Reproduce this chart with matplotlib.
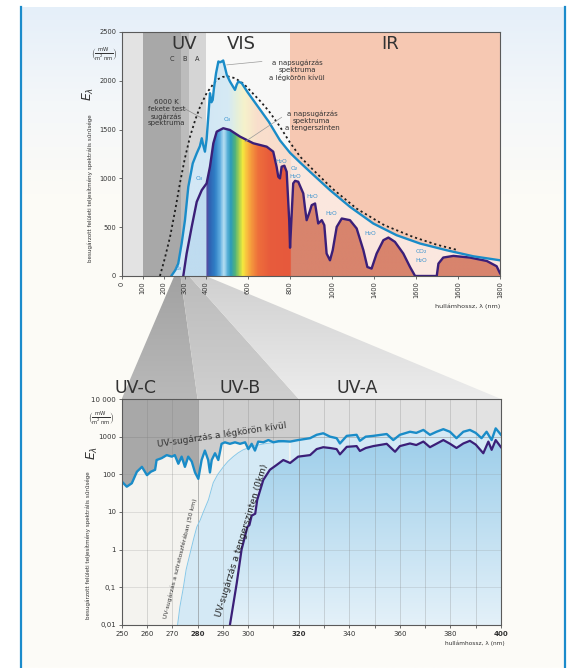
import matplotlib

matplotlib.use("Agg")
import matplotlib.pyplot as plt
import numpy as np
from matplotlib.colors import LinearSegmentedColormap
from matplotlib.patches import Polygon

W, H = 568, 668

# ---- top chart: full spectrum (nm, mW/m2/nm) ----
WL_EXT = [238, 255, 269, 285, 301, 317, 338, 357, 372, 381, 388, 396, 404, 412,
          420, 427, 433, 439, 449, 460, 468, 476, 483, 490, 500, 515, 527, 539,
          547, 555, 571, 600, 650, 700, 753, 801, 850, 896, 991, 1086, 1197,
          1308, 1419, 1546, 1673, 1800]
EXT = [7, 60, 127, 330, 572, 914, 1154, 1257, 1330, 1411, 1340, 1274, 1400, 1633,
       1873, 1780, 1804, 1925, 2079, 2198, 2190, 2198, 2208, 2150, 2061, 1993,
       1950, 1907, 1960, 1993, 1976, 1880, 1730, 1580, 1390, 1262, 1160, 1068,
       880, 709, 538, 418, 333, 264, 202, 161]

WL_SEA = [293, 309, 333, 357, 381, 404, 420, 436, 452, 483, 515, 563, 626, 690,
          721, 737, 745, 753, 761, 774, 785, 797, 801, 808, 816, 825, 840, 864,
          872, 880, 893, 904, 920, 935, 952, 964, 975, 991, 1004, 1023, 1047,
          1086, 1118, 1150, 1169, 1189, 1213, 1245, 1269, 1300, 1340, 1372,
          1396, 1499, 1507, 1530, 1578, 1657, 1737, 1784, 1800]
SEA = [0, 230, 503, 760, 880, 949, 1120, 1360, 1479, 1514, 1496, 1428, 1360,
       1325, 1274, 1120, 1017, 1000, 1120, 1130, 1068, 572, 290, 600, 949, 975,
       966, 846, 700, 572, 650, 726, 743, 538, 572, 521, 230, 161, 264, 503,
       589, 572, 487, 264, 92, 76, 230, 367, 394, 350, 230, 92, 0, 0, 127, 189,
       206, 189, 154, 100, 28]

WL_BB = [182, 205, 230, 255, 277, 300, 325, 350, 373, 404, 430, 452, 480, 507,
         539, 580, 620, 660, 700, 750, 800, 850, 912, 1000, 1118, 1250, 1387,
         1500, 1600]
BB = [0, 180, 400, 680, 949, 1200, 1427, 1600, 1735, 1873, 1950, 2010, 2040,
      2044, 2027, 1970, 1880, 1790, 1690, 1540, 1370, 1220, 1085, 900, 690, 520,
      400, 320, 265]

TOP_XTICKS = [0, 100, 200, 300, 400, 600, 800, 1000, 1200, 1400, 1600, 1800]
TOP_XLABELS = ["0", "100", "200", "300", "400", "600", "800", "1000", "1400",
               "1600", "1600", "1800"]
BAND_EDGES = [0, 100, 280, 320, 400, 800, 1800]
BAND_COLORS = ["#e3e3e3", "#a8a8a8", "#bcbcbc", "#d5d5d5", "#f8f8f7", "#f6c8b2"]

# ---- bottom chart: UV detail (log scale) ----
WL_UV = [250, 252, 254, 256, 258, 260, 261.5, 263.2, 263.8, 265.8, 267.8, 269.8,
         271, 272.4, 273.7, 275, 276.3, 277.7, 279, 280.3, 281.6, 282.9, 284.2,
         284.9, 285.6, 286.9, 288.2, 289.5, 290.8, 292.8, 294.8, 296.8, 298.8,
         300.1, 301.4, 302.7, 304, 306, 308, 310, 312, 314, 316.6, 319.8, 324.5,
         327.1, 329.7, 332.4, 335, 336.3, 339, 342.9, 344.2, 346.5, 349.5, 354.8,
         357.4, 360, 364, 366.5, 369.3, 371.9, 374.5, 377.2, 379.8, 382.4, 385.1,
         387.7, 390, 392.3, 394.3, 396.3, 397.9, 400]
UV_EXT = [65, 47, 58, 117, 158, 95, 117, 132, 240, 269, 324, 295, 324, 191, 295,
          158, 295, 219, 112, 76, 240, 427, 240, 112, 240, 363, 240, 646, 708,
          646, 708, 646, 708, 468, 646, 427, 740, 708, 813, 708, 760, 760, 740,
          813, 912, 1120, 1230, 1000, 912, 660, 1050, 1120, 776, 1000, 1050, 1175,
          813, 1120, 1350, 1260, 1510, 1120, 1350, 1580, 1350, 912, 1350, 1510,
          1260, 912, 1350, 813, 1660, 1120]

WL_UV_SEA = [292.8, 295.5, 297.4, 299.7, 300.5, 301.4, 302.8, 303.6, 306, 308.6,
             311.3, 313.9, 316.6, 319.8, 324.5, 327.1, 329.7, 332.4, 335, 336.3,
             339, 342.9, 344.2, 346.5, 349.5, 354.8, 358.1, 360, 364, 366.5,
             369.3, 371.9, 374.5, 377.2, 379.8, 382.4, 385.1, 387.7, 390, 393,
             395, 396.3, 397.9, 400]
UV_SEA = [0.01, 0.13, 1.0, 4, 4.5, 8, 9, 21, 71, 132, 178, 240, 200, 295, 324,
          468, 525, 500, 468, 339, 537, 562, 417, 500, 562, 646, 398, 562, 660,
          600, 741, 525, 650, 813, 650, 501, 660, 776, 617, 363, 741, 447, 813, 525]

WL_STRAT = [272.1, 273, 274.4, 275.5, 277.4, 278.5, 279.7, 281, 282.3, 284.3,
            286.2, 288, 290.2, 292, 294.1, 296, 298, 300, 302, 305, 307.3, 310,
            313, 316]
STRAT = [0.01, 0.03, 0.1, 0.3, 1, 2, 4, 6, 10, 21, 60, 100, 158, 220, 295, 370,
         447, 500, 562, 620, 660, 690, 720, 740]

UV_XTICKS = list(range(250, 401, 10))
UV_XLABELS = ["250", "260", "270", "280", "290", "300", "", "320", "", "340", "",
              "360", "", "380", "", "400"]
UV_YTICKS = [0.01, 0.1, 1, 10, 100, 1000, 10000]
UV_YLABELS = ["0,01", "0,1", "1", "10", "100", "1000", "10 000"]
UV_BANDS = [250, 280, 320, 400]
UV_BAND_COLORS = ["#a8a8a8", "#cdcdcd", "#e2e2e2"]

C_EXT = "#1a8cc8"
C_SEA = "#3b1f78"
C_MOL = "#3a93cf"
TXT = "#333333"
YLONG = "besugárzott felületi teljesítmény spektrális sűrűsége"
XLAB = "hullámhossz, λ (nm)"
UNIT = r"$\left(\frac{\mathrm{mW}}{\mathrm{m^2\,nm}}\right)$"


def fx(px):
    return px / W


def fy(py):
    return 1 - py / H


def clip_image(ax, img, cmap, extent, verts, z, transform=None):
    im = ax.imshow(img, cmap=cmap, extent=extent, origin="lower",
                   aspect="auto", zorder=z, transform=transform or ax.transData)
    p = Polygon(verts, closed=True, fc="none", ec="none",
                transform=ax.transData)
    ax.add_patch(p)
    im.set_clip_path(p)
    return im


fig = plt.figure(figsize=(W / 100, H / 100), dpi=100)

# background panel
bg = fig.add_axes([0, 0, 1, 1], zorder=-1)
bg_cm = LinearSegmentedColormap.from_list(
    "bg", [(0, "#fdfcf8"), (0.72, "#fcfbf6"), (0.86, "#f4f7fa"), (1, "#e5eff9")])
bg.imshow(np.linspace(0, 1, 256).reshape(-1, 1), cmap=bg_cm,
          extent=[fx(21), fx(565), 0, fy(7)], origin="lower", aspect="auto")
bg.plot([fx(21)] * 2, [0, fy(7)], color="#1b8bcb", lw=1.6)
bg.plot([fx(565)] * 2, [0, fy(7)], color="#1b8bcb", lw=1.6)

# ---------------- top chart ----------------
ax1 = fig.add_axes([fx(121.7), fy(276), fx(500) - fx(121.7), fy(32) - fy(276)])
ax1.set_facecolor("none")
for a, b, c in zip(BAND_EDGES[:-1], BAND_EDGES[1:], BAND_COLORS):
    ax1.axvspan(a, b, color=c, lw=0, zorder=0)

pastel = LinearSegmentedColormap.from_list("pastel", [
    (0, "#d2e7f5"), (400 / 1800, "#d2e7f5"), (505 / 1800, "#d6eaf4"),
    (545 / 1800, "#e6f0da"), (580 / 1800, "#f6f2cb"), (640 / 1800, "#f9dfcc"),
    (799 / 1800, "#f9dccd"), (800 / 1800, "#fbe7de"), (1, "#fbe8e0")])
rainbow = LinearSegmentedColormap.from_list("rainbow", [
    (0, "#bfdcf0"), (399 / 1800, "#bfdcf0"), (400 / 1800, "#5b4a9e"),
    (415 / 1800, "#2f64b4"), (440 / 1800, "#2f7fc6"), (465 / 1800, "#62aee0"),
    (483 / 1800, "#bde3f3"), (498 / 1800, "#5fb3dc"), (515 / 1800, "#2e9cba"),
    (535 / 1800, "#4fb27c"), (555 / 1800, "#a9d250"), (572 / 1800, "#f4ea3e"),
    (590 / 1800, "#f9c13f"), (612 / 1800, "#f59a3d"), (645 / 1800, "#ee6f3b"),
    (700 / 1800, "#e85c3c"), (799 / 1800, "#e6593d"), (800 / 1800, "#d8846d"),
    (1, "#d8846d")])
xs = np.linspace(0, 1, 1800).reshape(1, -1)
ext_verts = [(WL_EXT[0], 0)] + list(zip(WL_EXT, EXT)) + [(WL_EXT[-1], 0)]
sea_verts = [(WL_SEA[0], 0)] + list(zip(WL_SEA, SEA)) + [(WL_SEA[-1], 0)]
clip_image(ax1, xs, pastel, [0, 1800, 0, 2500], ext_verts, 1)
clip_image(ax1, xs, rainbow, [0, 1800, 0, 2500], sea_verts, 2)

ax1.plot(WL_BB, BB, color="#1e1e1e", lw=1.3, ls=(0, (1.2, 1.6)), zorder=3)
ax1.plot(WL_SEA, SEA, color=C_SEA, lw=1.7, zorder=4)
ax1.plot(WL_EXT, EXT, color=C_EXT, lw=1.7, zorder=5)
ax1.set_xlim(0, 1800)
ax1.set_ylim(0, 2500)

ax1.set_xticks(TOP_XTICKS)
ax1.set_xticklabels(TOP_XLABELS, rotation=90, fontsize=4.8, color=TXT)
ax1.set_yticks(range(0, 2501, 500))
ax1.set_yticklabels([str(v) for v in range(0, 2501, 500)], fontsize=4.8,
                    color=TXT)
ax1.tick_params(length=2.5, width=0.6, pad=1.5, color="#555")
for s in ax1.spines.values():
    s.set_color("#5a5a5a")
    s.set_linewidth(0.8)
    s.set_zorder(6)

for t, x in (("UV", 297), ("VIS", 571), ("IR", 1277)):
    ax1.text(x, 2380, t, fontsize=13, ha="center", va="center", color=TXT,
             zorder=7)
for t, x in (("C", 238), ("B", 301), ("A", 357)):
    ax1.text(x, 2225, t, fontsize=4.8, ha="center", va="center", color=TXT,
             zorder=7)
ax1.text(214, 1671, "6000 K\nfekete test\nsugárzás\nspektruma", fontsize=5,
         ha="center", va="center", color=TXT, linespacing=1.15, zorder=7)
ax1.plot([286, 381], [1731, 1618], color="#8a8a8a", lw=0.5, zorder=6)
ax1.text(834, 2105, "a napsugárzás\nspektruma\na légkörön kívül", fontsize=5,
         ha="center", va="center", color=TXT, linespacing=1.15, zorder=7)
ax1.plot([500, 667], [2163, 2198], color="#9a9a9a", lw=0.5, zorder=6)
ax1.text(905, 1592, "a napsugárzás\nspektruma\na tengerszinten", fontsize=5,
         ha="center", va="center", color=TXT, linespacing=1.15, zorder=7)
ax1.plot([587, 761], [1376, 1626], color="#9a9a9a", lw=0.5, zorder=6)

for t, x, y in (("O₃", 500, 1599), ("O₃", 369, 1000), ("O₃", 269, 76),
                ("H₂O", 761, 1171), ("O₂", 821, 1103), ("H₂O", 825, 1024),
                ("H₂O", 909, 811), ("H₂O", 999, 641), ("H₂O", 1185, 435),
                ("CO₂", 1427, 246), ("H₂O", 1427, 161)):
    ax1.text(x, y, t, fontsize=4.3, color=C_MOL, ha="center", va="center",
             zorder=7)

fig.text(fx(104), fy(54), UNIT, fontsize=5.5, ha="center", va="center",
         color=TXT)
fig.text(fx(88), fy(94), r"$E_\lambda$", fontsize=9, rotation=90,
         ha="center", va="center", color=TXT)
fig.text(fx(90), fy(188), YLONG, fontsize=4.1, rotation=90, ha="center",
         va="center", color=TXT)
fig.text(fx(500), fy(306), XLAB, fontsize=4.6, ha="right", va="center",
         color=TXT)

# ---------------- bottom chart ----------------
ax2 = fig.add_axes([fx(121.7), fy(625), fx(501) - fx(121.7), fy(399) - fy(625)])
ax2.set_facecolor("none")
ax2.set_yscale("log")
ax2.set_xlim(250, 400)
ax2.set_ylim(0.01, 10000)
for a, b, c in zip(UV_BANDS[:-1], UV_BANDS[1:], UV_BAND_COLORS):
    ax2.axvspan(a, b, color=c, lw=0, zorder=0)
ax2.fill_between(WL_UV, UV_EXT, 0.01, color="#f4f3ef", lw=0, zorder=1)
ax2.fill_between(WL_STRAT, STRAT, 0.01, color="#d4e9f5", lw=0, zorder=2)
wl_arr = np.array(WL_UV)
ax2.fill_between(WL_UV, UV_EXT, 0.01, where=wl_arr >= 316, color="#d4e9f5",
                 lw=0, zorder=2)
sea_cm = LinearSegmentedColormap.from_list("sea", ["#e4f1f9", "#8fc7e7"])
uv_verts = [(WL_UV_SEA[0], 0.01)] + list(zip(WL_UV_SEA, UV_SEA)) + [(400, 0.01)]
clip_image(ax2, np.linspace(0, 1, 256).reshape(-1, 1), sea_cm, [0, 1, 0, 1],
           uv_verts, 3, transform=ax2.transAxes)

for x in UV_XTICKS[1:-1]:
    strong = x in (280, 320)
    ax2.axvline(x, color="#7a7a7a", lw=0.6, alpha=0.6 if strong else 0.3,
                zorder=3.5)
for y in UV_YTICKS[1:-1]:
    ax2.axhline(y, color="#8a8a8a", lw=0.6, alpha=0.25 if y < 1000 else 0.55,
                zorder=3.5)

ax2.plot(WL_STRAT, STRAT, color="#86c8ea", lw=0.7, zorder=4)
ax2.plot(WL_UV_SEA, UV_SEA, color=C_SEA, lw=1.6, zorder=5)
ax2.plot(WL_UV, UV_EXT, color=C_EXT, lw=1.7, zorder=6)
ax2.set_xlim(250, 400)
ax2.set_ylim(0.01, 10000)

ax2.set_xticks(UV_XTICKS)
ax2.set_xticklabels(UV_XLABELS, fontsize=5, color=TXT)
for lab in ax2.get_xticklabels():
    if lab.get_text() in ("280", "320", "400"):
        lab.set_fontweight("bold")
ax2.set_yticks(UV_YTICKS)
ax2.set_yticklabels(UV_YLABELS, fontsize=5, color=TXT)
ax2.minorticks_off()
ax2.tick_params(length=2.5, width=0.6, pad=1.5, color="#555")
for s in ax2.spines.values():
    s.set_color("#5a5a5a")
    s.set_linewidth(0.8)
    s.set_zorder(7)

ax2.text(289.5, 1100, "UV-sugárzás a légkörön kívül", fontsize=6.5,
         rotation=8.4, rotation_mode="anchor", ha="center", va="center",
         color=TXT, zorder=8)
ax2.text(273.0, 0.6, "UV-sugárzás a sztratoszférában (50 km)", fontsize=4.4,
         rotation=76, rotation_mode="anchor", ha="center", va="center",
         color=TXT, zorder=8)
ax2.text(297.6, 1.8, "UV-sugárzás a tengerszinten (0km)", fontsize=6.5,
         rotation=73, rotation_mode="anchor", ha="center", va="center",
         color="#222222", zorder=8)

fig.text(fx(135), fy(388), "UV-C", fontsize=12.5, ha="center", va="center",
         color=TXT)
fig.text(fx(240.5), fy(388), "UV-B", fontsize=12.5, ha="center", va="center",
         color=TXT)
fig.text(fx(356.7), fy(388), "UV-A", fontsize=12.5, ha="center", va="center",
         color=TXT)
fig.text(fx(101), fy(418), UNIT, fontsize=5.5, ha="center", va="center",
         color=TXT)
fig.text(fx(92), fy(453), r"$E_\lambda$", fontsize=9, rotation=90,
         ha="center", va="center", color=TXT)
fig.text(fx(88), fy(545), YLONG, fontsize=4.1, rotation=90, ha="center",
         va="center", color=TXT)
fig.text(fx(505), fy(643), XLAB, fontsize=4.2, ha="right", va="center",
         color=TXT)

# ---------------- funnel wedges ----------------
inv = fig.transFigure.inverted()


def fig_pt(ax, x, y):
    return tuple(inv.transform(ax.transData.transform((x, y))))


for (a, b), c_top, c_bot in zip(zip(UV_BANDS[:-1], UV_BANDS[1:]),
                                ["#a2a2a2", "#bcbcbc", "#d0d0d0"],
                                ["#b9b9b9", "#cfcfcf", "#ececec"]):
    verts = [fig_pt(ax1, a, 0), fig_pt(ax1, b, 0),
             fig_pt(ax2, b, 10000), fig_pt(ax2, a, 10000)]
    xv = [v[0] for v in verts]
    yv = [v[1] for v in verts]
    wcm = LinearSegmentedColormap.from_list("w", [c_bot, c_top])
    clip_image(bg, np.linspace(0, 1, 64).reshape(-1, 1), wcm,
               [min(xv), max(xv), min(yv), max(yv)], verts, 1)

bg.set_xlim(0, 1)
bg.set_ylim(0, 1)
bg.axis("off")

fig.savefig("out.png", dpi=100)
